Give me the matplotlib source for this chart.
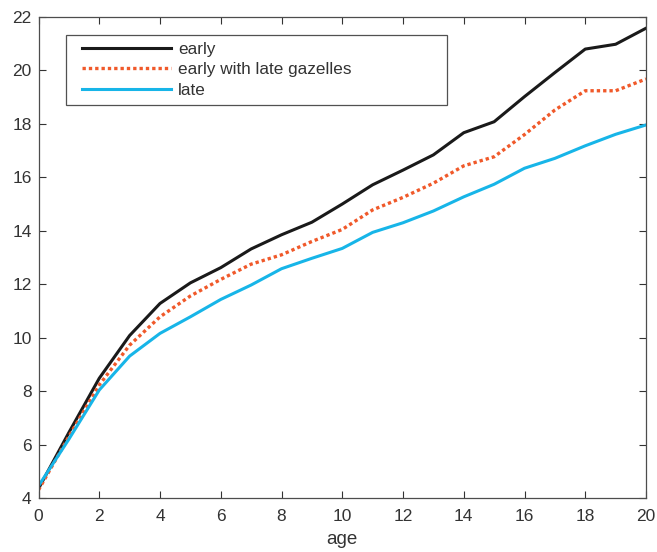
import matplotlib
matplotlib.use("Agg")
import matplotlib.pyplot as plt
from matplotlib.legend_handler import HandlerLine2D

age = list(range(21))
early = [4.35, 6.45, 8.48, 10.08, 11.28, 12.05, 12.62, 13.32, 13.85, 14.32, 15.0,
         15.72, 16.27, 16.84, 17.67, 18.08, 19.02, 19.92, 20.80, 20.98, 21.58]
early_late = [4.3, 6.3, 8.23, 9.72, 10.78, 11.56, 12.18, 12.75, 13.1, 13.6, 14.05,
              14.78, 15.25, 15.78, 16.43, 16.77, 17.6, 18.52, 19.24, 19.24, 19.68]
late = [4.45, 6.2, 8.04, 9.31, 10.16, 10.78, 11.43, 11.97, 12.58, 12.97, 13.34,
        13.94, 14.30, 14.74, 15.27, 15.74, 16.34, 16.71, 17.18, 17.61, 17.96]
labels = ["early", "early with late gazelles", "late"]

plt.rcParams['font.family'] = ['Liberation Sans', 'DejaVu Sans']
txt = '#333333'
fig = plt.figure(figsize=(6.57, 5.52), dpi=100)
ax = fig.add_axes([38.5/657, 1-498/552, 607.5/657, 481/552])

l1, = ax.plot(age, early, color='#1a1a1a', lw=2.2, label=labels[0])
l2, = ax.plot(age, early_late, color='#f0592a', lw=2.4, ls=(0, (1, 0.9)), label=labels[1])
l3, = ax.plot(age, late, color='#17b5e8', lw=2.2, label=labels[2])

ax.set_xlim(0, 20)
ax.set_ylim(4, 22)
ax.set_xticks(range(0, 21, 2))
ax.set_yticks(range(4, 23, 2))
ax.tick_params(direction='in', length=5, width=0.8, colors=txt, labelsize=12.5,
               top=True, right=True, labeltop=False, labelright=False)
ax.tick_params(axis='x', pad=8)
ax.tick_params(axis='y', pad=5)
for s in ax.spines.values():
    s.set_color('#4d4d4d')
    s.set_linewidth(0.9)
ax.set_xlabel('age', fontsize=13.5, color=txt, labelpad=5)

hmap = {h: HandlerLine2D(xpad=0.556) for h in (l1, l2, l3)}
leg = ax.legend(loc='upper left', bbox_to_anchor=(0.045, 0.6, 0.628, 0.363), mode='expand',
                fontsize=12.3, frameon=True, fancybox=False, edgecolor='#262626',
                handlelength=5.77, handletextpad=0.41, labelspacing=0.33,
                borderpad=0.4, borderaxespad=0, handler_map=hmap)
leg.get_frame().set_linewidth(0.9)
for t in leg.get_texts():
    t.set_color(txt)

fig.savefig('out.png', dpi=100)
